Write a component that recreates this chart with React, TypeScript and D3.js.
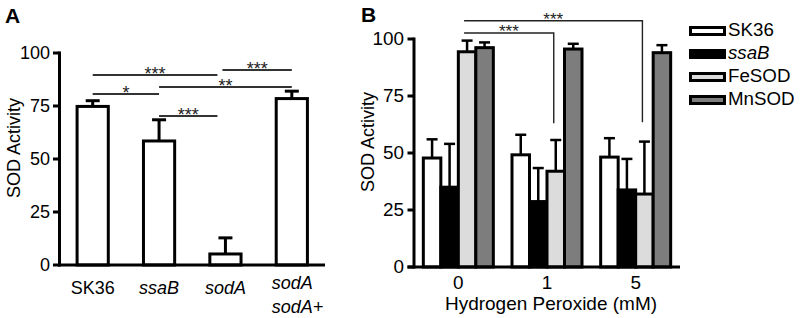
import React from "react";
import * as d3 from "d3";

// ---------- Panel A data ----------
const strainsA = ["SK36", "ssaB", "sodA", "sodA sodA+"];
const italicA = [false, true, true, true];
const valuesA = [74.8, 58.5, 5.2, 78.5];
const errorsA = [2.7, 10, 7.6, 3.5];
const ticksA = [0, 25, 50, 75, 100];
// comparisons: [fromIndex, toIndex, label, level]
const compsA: [number, number, string, number][] = [
  [0, 2, "***", 89.6],
  [2, 3, "***", 92],
  [0, 1, "*", 80.7],
  [1, 3, "**", 84],
  [1, 2, "***", 70.3],
];

// ---------- Panel B data ----------
const doses = ["0", "1", "5"];
const seriesB = ["SK36", "ssaB", "FeSOD", "MnSOD"];
const italicB = [false, true, false, false];
const fillsB = ["#ffffff", "#000000", "#dcdcdc", "#7d7d7d"];
const sk36B = [47.8, 49.2, 48.2];
const ssaBB = [35, 28.7, 33.8];
const feSodB = [94.4, 42, 32];
const mnSodB = [96.2, 95.6, 94];
const sk36ErrB = [8.2, 8.8, 8.3];
const ssaBErrB = [19, 14.7, 13.6];
const feSodErrB = [4.9, 13.7, 23];
const mnSodErrB = [2.3, 2.3, 3.3];
const ticksB = [0, 25, 50, 75, 100];
// comparisons: [fromDose, toDose, series, label, level, dropTo]
const compsB: [number, number, number, string, number, number][] = [
  [0, 1, 2, "***", 102.6, 63],
  [0, 2, 2, "***", 108, 63.5],
];

const valuesB = [sk36B, ssaBB, feSodB, mnSodB];
const errorsB = [sk36ErrB, ssaBErrB, feSodErrB, mnSodErrB];

const FONT = "'Liberation Sans', Arial, Helvetica, sans-serif";

function T(props: {
  x: number;
  y: number;
  sx?: number;
  rot?: number;
  anchor?: string;
  size?: number;
  italic?: boolean;
  bold?: boolean;
  fill?: string;
  dy?: string;
  children: React.ReactNode;
}) {
  const { x, y, sx = 1, rot = 0, anchor = "start", size = 18, italic, bold, fill = "#000", dy } = props;
  return (
    <text
      transform={`translate(${x},${y}) rotate(${rot}) scale(${sx},1)`}
      textAnchor={anchor}
      fontSize={size}
      fontStyle={italic ? "italic" : "normal"}
      fontWeight={bold ? "bold" : "normal"}
      fill={fill}
      dy={dy}
    >
      {props.children}
    </text>
  );
}

export default function App() {
  // Panel A scales
  const xA = d3.scalePoint<string>().domain(strainsA).range([59.5, 325]).padding(0.5);
  const yA = d3.scaleLinear().domain([0, 100]).range([265, 53]);
  const bwA = xA.step() * 0.47;

  // Panel B scales
  const xB = d3.scalePoint<string>().domain(doses).range([414, 680]).padding(0.5);
  const xInner = d3.scaleBand<string>().domain(seriesB).range([-35, 35]);
  const yB = d3.scaleLinear().domain([0, 100]).range([267, 39]);
  const bwB = xInner.bandwidth();

  return (
    <svg
      width={800}
      height={318}
      style={{ position: "absolute", left: 0, top: 0, background: "#fff" }}
      fontFamily={FONT}
    >
      <rect width={800} height={318} fill="#fff" />
      {/* ===== Panel A ===== */}
      <T x={5} y={23} size={21} bold>A</T>
      <T x={20} y={148} rot={-90} anchor="middle">SOD Activity</T>
      {/* y axis */}
      <line x1={59.5} x2={59.5} y1={yA(100) - 1.5} y2={yA(0) + 1.5} stroke="#000" strokeWidth={3} />
      {ticksA.map((t) => (
        <g key={t}>
          <line x1={53} x2={59.5} y1={yA(t)} y2={yA(t)} stroke="#000" strokeWidth={3} />
          <T x={50} y={yA(t)} dy="0.36em" anchor="end">{t}</T>
        </g>
      ))}
      {/* bars */}
      {strainsA.map((s, i) => {
        const cx = xA(s)!;
        return (
          <g key={s}>
            <line x1={cx} x2={cx} y1={yA(valuesA[i])} y2={yA(valuesA[i] + errorsA[i])} stroke="#000" strokeWidth={3} />
            <line x1={cx - 7} x2={cx + 7} y1={yA(valuesA[i] + errorsA[i])} y2={yA(valuesA[i] + errorsA[i])} stroke="#000" strokeWidth={3} />
            <rect
              x={cx - bwA / 2}
              y={yA(valuesA[i])}
              width={bwA}
              height={yA(0) - yA(valuesA[i])}
              fill="#fff"
              stroke="#000"
              strokeWidth={3}
            />
          </g>
        );
      })}
      {/* x axis */}
      <line x1={58} x2={325} y1={yA(0)} y2={yA(0)} stroke="#000" strokeWidth={3} />
      {strainsA.map((s, i) => {
        const cx = xA(s)!;
        const parts = s.split(" ");
        if (parts.length > 1) {
          return (
            <g key={s}>
              <T x={cx - 20} y={289} italic>{parts[0]}</T>
              <T x={cx - 20} y={313} italic>{parts[1]}</T>
            </g>
          );
        }
        return (
          <T key={s} x={cx} y={294} anchor="middle" italic={italicA[i]}>{s}</T>
        );
      })}
      {/* significance */}
      {compsA.map(([a, b, lab, lvl], k) => {
        const x1 = xA(strainsA[a])! + (a === 2 ? -3 : 0);
        const x2 = xA(strainsA[b])! + (b === 2 ? -8 : 0);
        const y = yA(lvl);
        return (
          <g key={k}>
            <line x1={x1} x2={x2} y1={y} y2={y} stroke="#333" strokeWidth={2} />
            <T x={(x1 + x2) / 2} y={y + 5} anchor="middle" size={18} fill="#222">{lab}</T>
          </g>
        );
      })}

      {/* ===== Panel B ===== */}
      <T x={361} y={22} size={21} bold>B</T>
      <T x={374} y={142} rot={-90} anchor="middle">SOD Activity</T>
      <line x1={414} x2={414} y1={yB(100) - 1.5} y2={yB(0) + 1.5} stroke="#000" strokeWidth={3} />
      {ticksB.map((t) => (
        <g key={t}>
          <line x1={407.5} x2={414} y1={yB(t)} y2={yB(t)} stroke="#000" strokeWidth={3} />
          <T x={404} y={yB(t)} dy="0.36em" anchor="end" sx={1.05}>{t}</T>
        </g>
      ))}
      {doses.map((d, gi) => (
        <g key={d}>
          {seriesB.map((s, si) => {
            const x0 = xB(d)! + xInner(s)!;
            const cx = x0 + bwB / 2;
            const v = valuesB[si][gi];
            const e = errorsB[si][gi];
            return (
              <g key={s}>
                <line x1={cx} x2={cx} y1={yB(v)} y2={yB(v + e)} stroke="#000" strokeWidth={2.5} />
                <line x1={cx - 5.5} x2={cx + 5.5} y1={yB(v + e)} y2={yB(v + e)} stroke="#000" strokeWidth={2.5} />
                <rect x={x0} y={yB(v)} width={bwB} height={yB(0) - yB(v)} fill={fillsB[si]} stroke="#000" strokeWidth={3} />
              </g>
            );
          })}
        </g>
      ))}
      <line x1={407.5} x2={680} y1={yB(0)} y2={yB(0)} stroke="#000" strokeWidth={3} />
      {doses.map((d) => (
        <T key={d} x={xB(d)!} y={289} anchor="middle" sx={1.05}>{d}</T>
      ))}
      <T x={551} y={310} anchor="middle" sx={1.055}>Hydrogen Peroxide (mM)</T>
      {compsB.map(([a, b, si, lab, lvl, drop], k) => {
        const x1 = xB(doses[a])! + xInner(seriesB[si])! + bwB / 2 - 3;
        const x2 = xB(doses[b])! + xInner(seriesB[si])! + bwB / 2 - 2;
        const y = yB(lvl);
        return (
          <g key={k}>
            <path d={`M${x1},${y}H${x2}V${yB(drop)}`} fill="none" stroke="#222" strokeWidth={1.4} />
            <T x={(x1 + x2) / 2} y={y + 4} anchor="middle" size={17} fill="#222">{lab}</T>
          </g>
        );
      })}
      {/* legend */}
      {seriesB.map((s, i) => {
        const y = 36 + i * 23;
        return (
          <g key={s}>
            <rect x={690.5} y={y - 8.5} width={34} height={7} fill={fillsB[i]} stroke="#000" strokeWidth={3} />
            <T x={728} y={y} italic={italicB[i]} sx={1.04}>{s}</T>
          </g>
        );
      })}
    </svg>
  );
}
